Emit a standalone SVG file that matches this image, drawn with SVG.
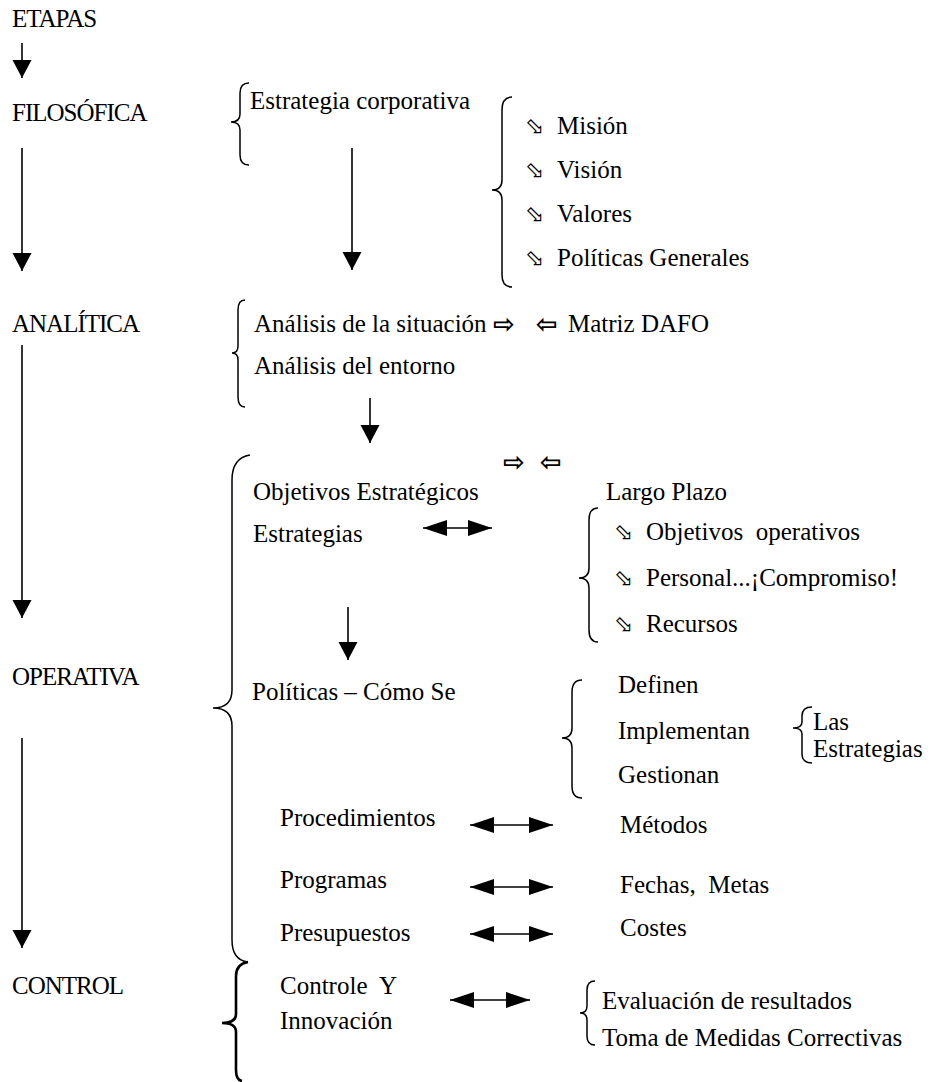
<svg xmlns="http://www.w3.org/2000/svg" width="931" height="1082" viewBox="0 0 931 1082">
<style>
text{font-family:"Liberation Serif","Times New Roman",serif;font-size:25px;fill:#000;white-space:pre}
.st{letter-spacing:-1px}
.sym{font-family:"DejaVu Sans",sans-serif;font-size:23px}
.ar{font-family:"DejaVu Sans",sans-serif;font-size:26px;font-weight:bold}
.br{fill:none;stroke:#000;stroke-width:1.5}
.brk{fill:none;stroke:#000;stroke-width:2.6}
.ln{stroke:#000;stroke-width:1.6;fill:none}
</style>
<defs>
<marker id="ah" markerUnits="userSpaceOnUse" markerWidth="20" markerHeight="20" viewBox="0 0 20 20" refX="18" refY="10" orient="auto"><path d="M0,0.5 L18,10 L0,19.5 Z" fill="#000"/></marker>
<marker id="hh" markerUnits="userSpaceOnUse" markerWidth="26" markerHeight="18" viewBox="0 0 26 18" refX="24" refY="9" orient="auto-start-reverse"><path d="M0,1 L24,9 L0,17 Z" fill="#000"/></marker>
</defs>
<g id="connectors">
<line class="ln" x1="22" y1="43" x2="22" y2="78" marker-end="url(#ah)"/>
<line class="ln" x1="22" y1="148" x2="22" y2="271" marker-end="url(#ah)"/>
<line class="ln" x1="22" y1="345" x2="22" y2="618" marker-end="url(#ah)"/>
<line class="ln" x1="22" y1="738" x2="22" y2="948" marker-end="url(#ah)"/>
<line class="ln" x1="352" y1="148" x2="352" y2="270" marker-end="url(#ah)"/>
<line class="ln" x1="370" y1="398" x2="370" y2="443" marker-end="url(#ah)"/>
<line class="ln" x1="348" y1="607" x2="348" y2="660" marker-end="url(#ah)"/>
<line class="ln" x1="423" y1="528" x2="492" y2="528" marker-start="url(#hh)" marker-end="url(#hh)"/>
<line class="ln" x1="470" y1="825" x2="553" y2="825" marker-start="url(#hh)" marker-end="url(#hh)"/>
<line class="ln" x1="470" y1="887" x2="553" y2="887" marker-start="url(#hh)" marker-end="url(#hh)"/>
<line class="ln" x1="470" y1="934" x2="553" y2="934" marker-start="url(#hh)" marker-end="url(#hh)"/>
<line class="ln" x1="450" y1="1000" x2="530" y2="1000" marker-start="url(#hh)" marker-end="url(#hh)"/>
</g>
<g id="etapas"><text x="12" y="27" class="st">ETAPAS</text></g>
<g id="filosofica">
<text x="12" y="121" class="st">FILOSÓFICA</text>
<path class="br" d="M249,83 Q240,83 240,93 L240,114 Q240,122 231,122 Q240,122 240,130 L240,155 Q240,165 249,165"/>
<text x="250" y="109">Estrategia corporativa</text>
<path class="br" d="M512,97 Q502,97 502,110 L502,180 Q502,190 492,190 Q502,190 502,200 L502,275 Q502,287 512,287"/>
<text class="sym" x="525" y="134">⬂</text><text x="557" y="134">Misión</text>
<text class="sym" x="525" y="178">⬂</text><text x="557" y="178">Visión</text>
<text class="sym" x="525" y="222">⬂</text><text x="557" y="222">Valores</text>
<text class="sym" x="525" y="266">⬂</text><text x="557" y="266">Políticas Generales</text>
</g>
<g id="analitica">
<text x="12" y="332" class="st">ANALÍTICA</text>
<path class="br" d="M245,300 Q238,300 238,310 L238,346 Q238,353 232,353 Q238,353 238,360 L238,397 Q238,407 245,407"/>
<text x="254" y="332">Análisis de la situación</text>
<text class="ar" x="493" y="333">⇨</text>
<text class="ar" x="536" y="333">⇦</text>
<text x="568" y="332">Matriz DAFO</text>
<text x="254" y="374">Análisis del entorno</text>
</g>
<g id="operativa">
<text x="12" y="685" class="st">OPERATIVA</text>
<path class="br" d="M250,455 Q232,458 232,480 L232,690 Q232,708 213,708 Q232,708 232,726 L232,940 Q232,960 248,962"/>
<text class="ar" x="503" y="471">⇨</text>
<text class="ar" x="540" y="471">⇦</text>
<text x="253" y="500">Objetivos Estratégicos</text>
<text x="253" y="542">Estrategias</text>
<text x="606" y="500">Largo Plazo</text>
<path class="br" d="M598,508 Q589,508 589,520 L589,568 Q589,578 579,578 Q589,578 589,588 L589,630 Q589,642 598,642"/>
<text class="sym" x="614" y="540">⬂</text><text x="646" y="540">Objetivos  operativos</text>
<text class="sym" x="614" y="586">⬂</text><text x="646" y="586">Personal...¡Compromiso!</text>
<text class="sym" x="614" y="632">⬂</text><text x="646" y="632">Recursos</text>
<text x="252" y="700">Políticas – Cómo Se</text>
<path class="br" d="M582,680 Q572,680 572,692 L572,728 Q572,738 562,738 Q572,738 572,748 L572,786 Q572,798 582,798"/>
<text x="618" y="693">Definen</text>
<text x="618" y="739">Implementan</text>
<text x="618" y="783">Gestionan</text>
<path class="br" d="M812,707 Q802,707 802,716 L802,722 Q802,728 793,728 Q802,728 802,734 L802,754 Q802,763 812,763"/>
<text x="813" y="730">Las</text>
<text x="813" y="757">Estrategias</text>
<text x="280" y="826">Procedimientos</text>
<text x="620" y="833">Métodos</text>
<text x="280" y="888">Programas</text>
<text x="620" y="893">Fechas,  Metas</text>
<text x="280" y="941">Presupuestos</text>
<text x="620" y="936">Costes</text>
</g>
<g id="control">
<text x="12" y="994" class="st">CONTROL</text>
<path class="brk" d="M248,962 Q236,964 236,976 L236,1014 Q236,1023 222,1023 Q236,1023 236,1032 L236,1070 Q236,1080 242,1081"/>
<text x="280" y="994">Controle  Y</text>
<text x="280" y="1029">Innovación</text>
<path class="br" d="M595,981 Q587,981 587,990 L587,1006 Q587,1013 580,1013 Q587,1013 587,1020 L587,1036 Q587,1045 595,1045"/>
<text x="602" y="1009">Evaluación de resultados</text>
<text x="602" y="1046">Toma de Medidas Correctivas</text>
</g>
</svg>
